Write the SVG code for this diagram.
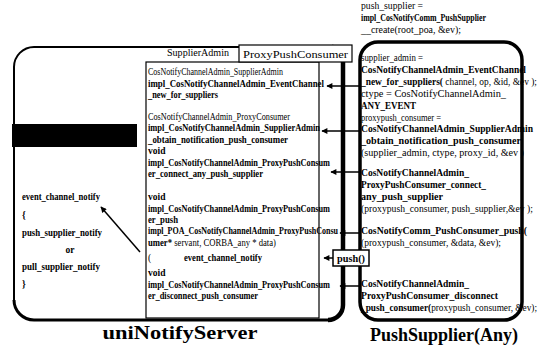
<svg xmlns="http://www.w3.org/2000/svg" width="545" height="350" viewBox="0 0 545 350">
<defs>
<style>
.t{font-family:"Liberation Serif","Times New Roman",serif;font-size:9.5px;fill:#000}
.b{font-weight:bold}
.big{font-family:"Liberation Serif","Times New Roman",serif;font-size:19px;font-weight:bold;fill:#000}
.ln{stroke:#000;fill:none}
.con{stroke:#000;stroke-width:1.5;fill:none}
</style>
<marker id="ah" viewBox="0 0 10 10" refX="9" refY="5" markerWidth="7" markerHeight="6" orient="auto" markerUnits="userSpaceOnUse">
<path d="M0,0 L10,5 L0,10 z" fill="#000"/>
</marker>
</defs>
<rect width="545" height="350" fill="#fff"/>

<g id="uniNotifyServer">
<path class="ln" stroke-width="2" d="M14,300 V67 A20,20 0 0 1 34,47 H332"/>
<path class="ln" stroke-width="3" d="M14,300 A20,20 0 0 0 34,320 H328"/>
<path class="ln" stroke-width="4.5" d="M332,47 A11,11 0 0 1 343,58 V305 A15,15 0 0 1 328,320"/>
<rect x="12" y="124" width="125" height="23" fill="#000"/>
<text class="t b" x="22" y="200" textLength="78" lengthAdjust="spacingAndGlyphs">event_channel_notify</text>
<text class="t b" x="22" y="218">{</text>
<text class="t b" x="22" y="236" textLength="80" lengthAdjust="spacingAndGlyphs">push_supplier_notify</text>
<text class="t b" x="70" y="253" text-anchor="middle">or</text>
<text class="t b" x="22" y="270" textLength="78" lengthAdjust="spacingAndGlyphs">pull_supplier_notify</text>
<text class="t b" x="22" y="287">}</text>
<text class="big" x="180" y="339" text-anchor="middle" textLength="155" lengthAdjust="spacingAndGlyphs">uniNotifyServer</text>
</g>

<g id="proxyPushConsumer">
<rect class="ln" stroke-width="1.2" x="146" y="62" width="173" height="256"/>
<text class="t" x="167" y="56" textLength="62" lengthAdjust="spacingAndGlyphs">SupplierAdmin</text>
<text class="t" x="148" y="75" textLength="135" lengthAdjust="spacingAndGlyphs">CosNotifyChannelAdmin_SupplierAdmin</text>
<text class="t b" x="148" y="87" textLength="176" lengthAdjust="spacingAndGlyphs">impl_CosNotifyChannelAdmin_EventChannel</text>
<text class="t b" x="148" y="98" textLength="70" lengthAdjust="spacingAndGlyphs">_new_for_suppliers</text>
<text class="t" x="148" y="120" textLength="142" lengthAdjust="spacingAndGlyphs">CosNotifyChannelAdmin_ProxyConsumer</text>
<text class="t b" x="148" y="131" textLength="172" lengthAdjust="spacingAndGlyphs">impl_CosNotifyChannelAdmin_SupplierAdmin</text>
<text class="t b" x="148" y="143" textLength="140" lengthAdjust="spacingAndGlyphs">_obtain_notification_push_consumer</text>
<text class="t b" x="148" y="154">void</text>
<text class="t b" x="148" y="166" textLength="182" lengthAdjust="spacingAndGlyphs">impl_CosNotifyChannelAdmin_ProxyPushConsum</text>
<text class="t b" x="148" y="177" textLength="115" lengthAdjust="spacingAndGlyphs">er_connect_any_push_supplier</text>
<text class="t b" x="148" y="200">void</text>
<text class="t b" x="148" y="212" textLength="182" lengthAdjust="spacingAndGlyphs">impl_CosNotifyChannelAdmin_ProxyPushConsum</text>
<text class="t b" x="148" y="223" textLength="30" lengthAdjust="spacingAndGlyphs">er_push</text>
<text class="t b" x="148" y="234" textLength="190" lengthAdjust="spacingAndGlyphs">impl_POA_CosNotifyChannelAdmin_ProxyPushConsu</text>
<text class="t" x="148" y="246" textLength="128" lengthAdjust="spacingAndGlyphs"><tspan class="b">umer*</tspan> servant, CORBA_any * data)</text>
<text class="t" x="148" y="261">(</text>
<text class="t b" x="184" y="261" textLength="78" lengthAdjust="spacingAndGlyphs">event_channel_notify</text>
<text class="t b" x="148" y="276">void</text>
<text class="t b" x="148" y="288" textLength="182" lengthAdjust="spacingAndGlyphs">impl_CosNotifyChannelAdmin_ProxyPushConsum</text>
<text class="t b" x="148" y="299" textLength="110" lengthAdjust="spacingAndGlyphs">er_disconnect_push_consumer</text>
<rect x="239" y="45" width="113" height="17" fill="#fff" stroke="#000" stroke-width="1.2"/>
<text class="t" x="243" y="58" font-size="11" textLength="105" lengthAdjust="spacingAndGlyphs">ProxyPushConsumer</text>
</g>

<g id="pushSupplier">
<text class="t" x="361" y="9" textLength="62" lengthAdjust="spacingAndGlyphs">push_supplier =</text>
<text class="t b" x="361" y="21" textLength="125" lengthAdjust="spacingAndGlyphs">impl_CosNotifyComm_PushSupplier</text>
<text class="t" x="361" y="33" textLength="100" lengthAdjust="spacingAndGlyphs">__create(root_poa, &amp;ev);</text>
<rect class="ln" stroke-width="3.5" x="360" y="42" width="162" height="278" rx="18"/>
<text class="t" x="361" y="61" textLength="62" lengthAdjust="spacingAndGlyphs">supplier_admin =</text>
<text class="t b" x="361" y="73" textLength="165" lengthAdjust="spacingAndGlyphs">CosNotifyChannelAdmin_EventChannel</text>
<text class="t" x="361" y="85" textLength="176" lengthAdjust="spacingAndGlyphs"><tspan class="b">_new_for_suppliers(</tspan> channel, op, &amp;id, &amp;ev );</text>
<text class="t" x="361" y="97" textLength="145" lengthAdjust="spacingAndGlyphs">ctype = CosNotifyChannelAdmin_</text>
<text class="t b" x="361" y="109" textLength="55" lengthAdjust="spacingAndGlyphs">ANY_EVENT</text>
<text class="t" x="361" y="121" textLength="80" lengthAdjust="spacingAndGlyphs">proxypush_consumer =</text>
<text class="t b" x="361" y="132" textLength="172" lengthAdjust="spacingAndGlyphs">CosNotifyChannelAdmin_SupplierAdmin</text>
<text class="t b" x="361" y="144" textLength="160" lengthAdjust="spacingAndGlyphs">_obtain_notification_push_consumer</text>
<text class="t" x="361" y="156" textLength="163" lengthAdjust="spacingAndGlyphs">(supplier_admin, ctype, proxy_id, &amp;ev )</text>
<text class="t b" x="361" y="176" textLength="108" lengthAdjust="spacingAndGlyphs">CosNotifyChannelAdmin_</text>
<text class="t b" x="361" y="188" textLength="125" lengthAdjust="spacingAndGlyphs">ProxyPushConsumer_connect_</text>
<text class="t b" x="361" y="200" textLength="82" lengthAdjust="spacingAndGlyphs">any_push_supplier</text>
<text class="t" x="361" y="212" textLength="172" lengthAdjust="spacingAndGlyphs">(proxypush_consumer, push_supplier,&amp;ev );</text>
<text class="t b" x="361" y="234" textLength="166" lengthAdjust="spacingAndGlyphs">CosNotifyComm_PushConsumer_push(</text>
<text class="t" x="361" y="246" textLength="140" lengthAdjust="spacingAndGlyphs">(proxypush_consumer, &amp;data, &amp;ev);</text>
<text class="t b" x="361" y="287" textLength="108" lengthAdjust="spacingAndGlyphs">CosNotifyChannelAdmin_</text>
<text class="t b" x="361" y="299" textLength="137" lengthAdjust="spacingAndGlyphs">ProxyPushConsumer_disconnect</text>
<text class="t" x="361" y="311" textLength="176" lengthAdjust="spacingAndGlyphs"><tspan class="b">_push_consumer(</tspan>proxypush_consumer, &amp;ev);</text>
<text class="big" x="444" y="341" text-anchor="middle" textLength="148" lengthAdjust="spacingAndGlyphs">PushSupplier(Any)</text>
</g>

<g id="connectors">
<line class="con" x1="360" y1="86" x2="327" y2="86" marker-end="url(#ah)"/>
<line class="con" x1="360" y1="131" x2="322" y2="131" marker-end="url(#ah)"/>
<line class="con" x1="360" y1="172" x2="331" y2="172" marker-end="url(#ah)"/>
<line class="con" x1="360" y1="233" x2="340" y2="233" marker-end="url(#ah)"/>
<line class="con" x1="360" y1="286" x2="340" y2="286" marker-end="url(#ah)"/>
<line class="con" x1="333" y1="258" x2="324" y2="258" marker-end="url(#ah)"/>
<line class="con" x1="140" y1="252" x2="101" y2="207" marker-end="url(#ah)"/>
</g>

<g id="push">
<rect x="333" y="250" width="36" height="16" fill="#fff" stroke="#000" stroke-width="1.5"/>
<text class="t b" x="337" y="262" textLength="28" lengthAdjust="spacingAndGlyphs">push()</text>
</g>
</svg>
